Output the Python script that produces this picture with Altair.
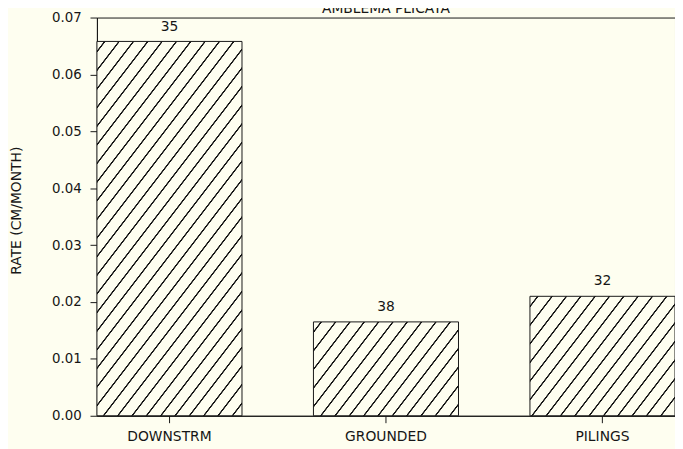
import math
import altair as alt
import pandas as pd

# ---- data ----
sites = ["DOWNSTRM", "GROUNDED", "PILINGS"]
rates = [0.0658, 0.0165, 0.0210]
counts = [35, 38, 32]
y_ticks = [0.0, 0.01, 0.02, 0.03, 0.04, 0.05, 0.06, 0.07]
y_max = 0.07

df = pd.DataFrame({"site": sites, "rate": rates, "n": counts})

# ---- layout / style ----
W, H = 585, 403
PAD_INNER = 0.33
BG = "#fefef0"
INK = "#161616"
FONT = "DejaVu Sans"

step = W / (len(sites) - PAD_INNER)
band_w = step * (1 - PAD_INNER)


def hatch(w, h, t=1.3, sh=14.5, lw=0.9):
    """Diagonal '/' hatching as a bounding-box linear gradient."""
    F = t * w + h
    k = F / (t * t * w * w + h * h)
    x2, y2 = k * t * w, k * h
    P = t * sh
    g = math.sqrt(t * t + 1)
    core = lw * g / 2
    ramp = 0.5 * g
    stops = [{"offset": 0, "color": BG}]
    last = 0.0
    f = P * 0.55
    while f < F:
        for o, c in [(f - core - ramp, BG), (f - core, INK), (f + core, INK), (f + core + ramp, BG)]:
            off = min(max(o / F, last), 1.0)
            stops.append({"offset": off, "color": c})
            last = off
        f += P
    stops.append({"offset": 1, "color": BG})
    return {"gradient": "linear", "x1": 0, "y1": 0, "x2": x2, "y2": y2, "stops": stops}


x_enc = alt.X(
    "site:N",
    sort=sites,
    scale=alt.Scale(domain=sites, paddingInner=PAD_INNER, paddingOuter=0),
    axis=alt.Axis(title=None, labelAngle=0, tickSize=7, labelPadding=7,
                  labelFontSize=14, labelFont=FONT),
)
y_enc = alt.Y(
    "rate:Q",
    scale=alt.Scale(domain=[0, y_max], nice=False),
    axis=alt.Axis(values=y_ticks, format=".2f", tickSize=7, labelPadding=9,
                  labelFontSize=13.5, labelFont=FONT,
                  title="RATE (CM/MONTH)", titleFontSize=14, titleFont=FONT,
                  titleFontWeight="normal", titleX=-81, titleY=195,
                  titleAngle=270, titleAlign="center", titleBaseline="middle"),
)

base = alt.Chart(df)
layers = []
for s, r in zip(sites, rates):
    h = r / y_max * H
    layers.append(
        base.transform_filter(alt.datum.site == s)
        .mark_bar(fill=hatch(band_w, h), stroke=INK, strokeWidth=1)
        .encode(x=x_enc, y=y_enc)
    )

labels = base.mark_text(dy=-11, baseline="alphabetic", fontSize=14, font=FONT, color=INK).encode(
    x=alt.X("site:N", sort=sites), y="rate:Q", text="n:Q"
)

chart = (
    alt.layer(*layers, labels)
    .properties(
        width=W,
        height=H,
        autosize=alt.AutoSizeParams(type="none"),
        padding={"left": 90, "top": 7, "right": 0, "bottom": 33},
        background=BG,
        title=alt.TitleParams("AMBLEMA PLICATA", fontSize=14, fontWeight="normal", font=FONT,
                              anchor="middle", frame="group", offset=-16,
                              baseline="alphabetic", color=INK),
    )
    .configure_view(stroke=INK, strokeWidth=1)
    .configure_axis(domainColor=INK, tickColor=INK, labelColor=INK, titleColor=INK,
                    grid=False, domainWidth=1, tickWidth=1)
)

chart.save("out.html", embed_options={"renderer": "svg", "actions": False})
